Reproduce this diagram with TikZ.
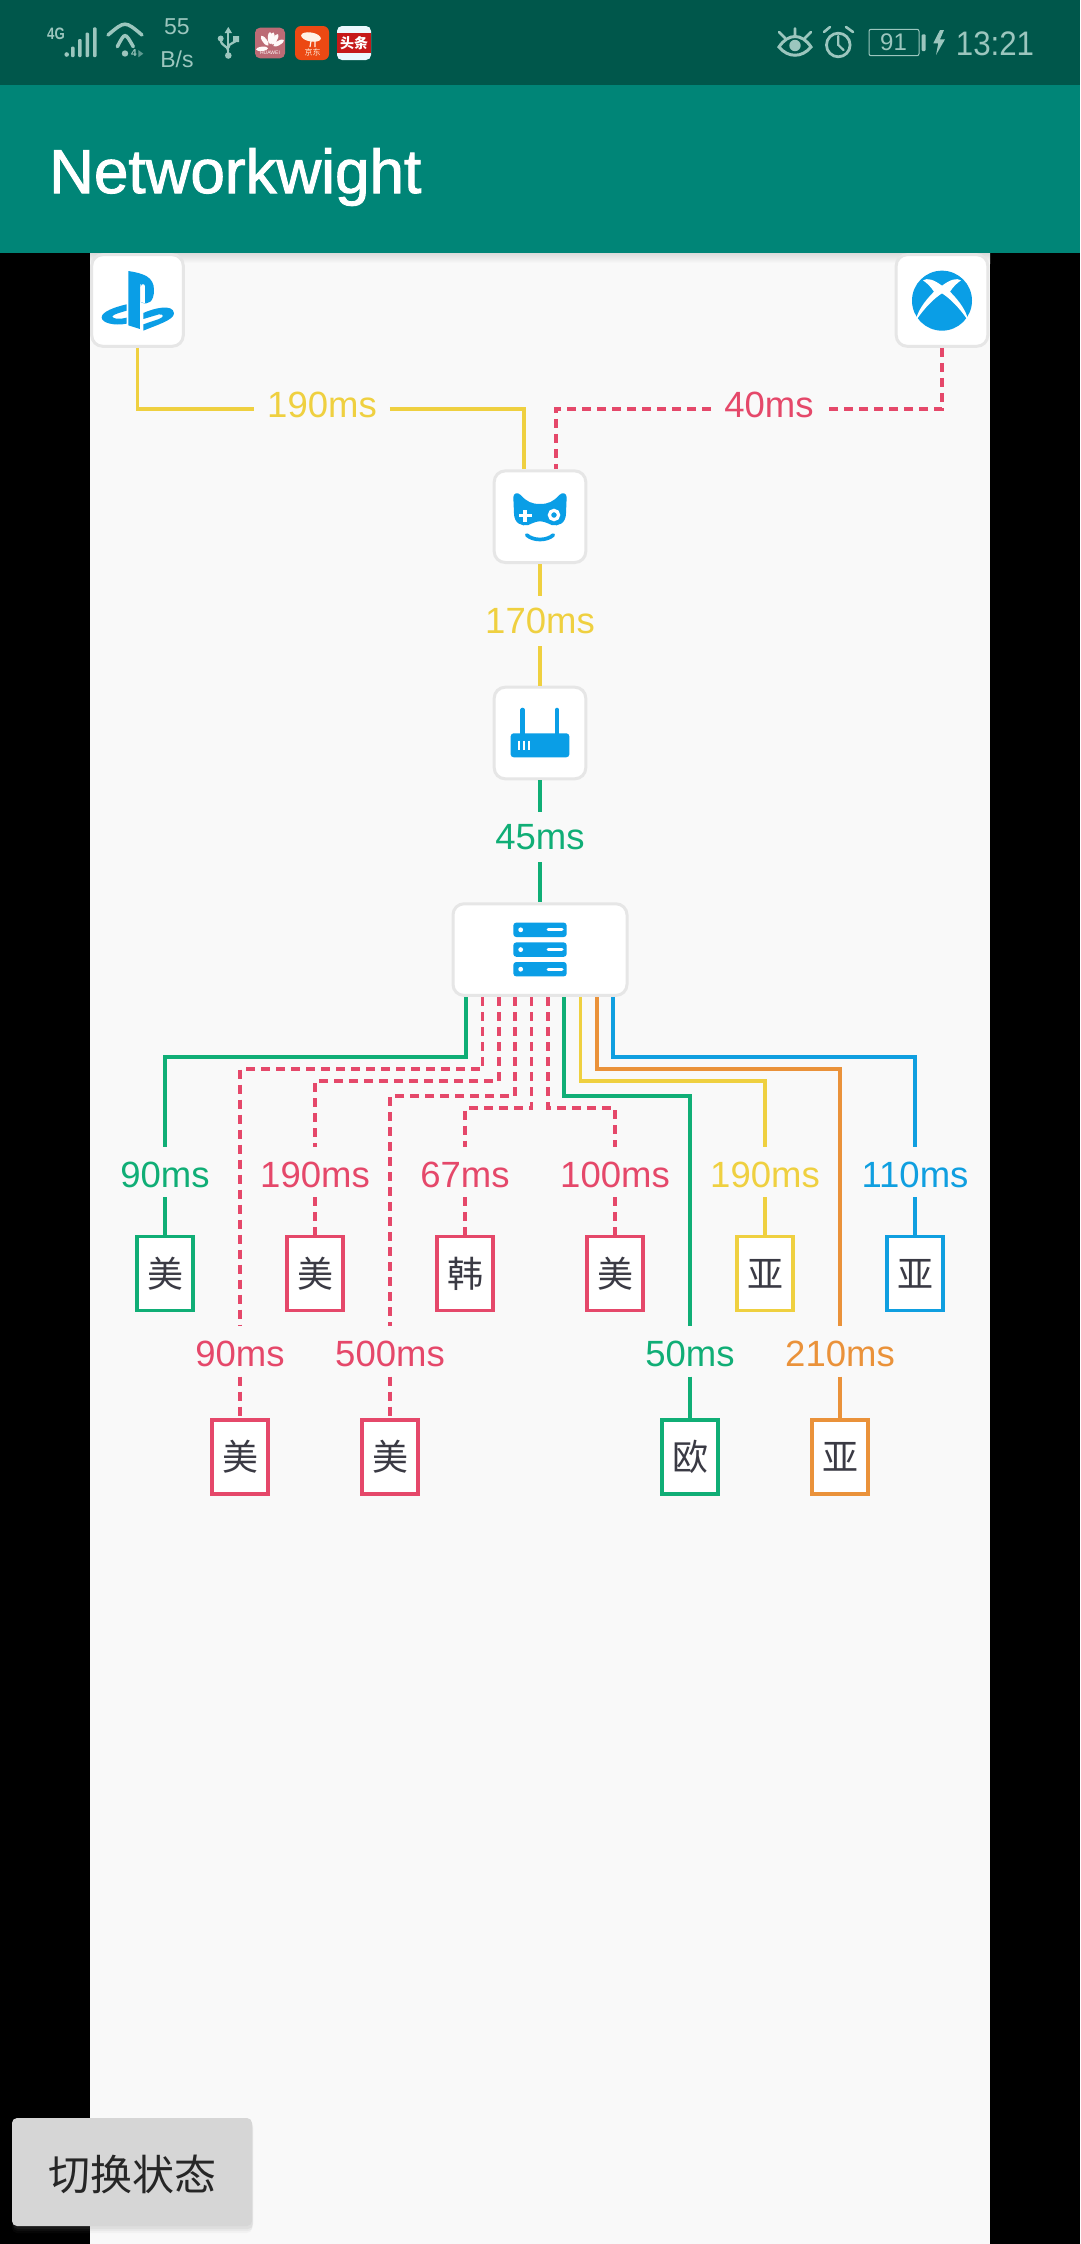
\documentclass[tikz,border=0pt]{standalone}
\usepackage{fontspec}
\setmainfont{Liberation Sans}
\newfontfamily\cjk{Noto Sans CJK SC}
\newfontfamily\titlefont[FakeBold=1.5]{Liberation Sans}
\usetikzlibrary{shadows}

\definecolor{statusbar}{HTML}{00574B}
\definecolor{appbar}{HTML}{008577}
\definecolor{statustext}{HTML}{9CC6BE}
\definecolor{pagebg}{HTML}{F9F9F9}
\definecolor{cardline}{HTML}{E6E6E6}
\definecolor{iconblue}{HTML}{0A9EE6}
\definecolor{msyellow}{HTML}{EFD040}
\definecolor{msred}{HTML}{E5486A}
\definecolor{msgreen}{HTML}{10AE76}
\definecolor{msorange}{HTML}{EA923A}
\definecolor{msblue}{HTML}{109FE0}
\definecolor{glyphgray}{HTML}{3A3A44}

\tikzset{
    card/.style={draw=cardline,fill=white,line width=3pt,rounded corners=11pt,minimum width=91.6pt,minimum height=91.6pt,inner sep=0pt},
    regbox/.style={draw=#1,fill=white,line width=3.3pt,minimum width=56pt,minimum height=74pt,inner sep=0pt,text=glyphgray,font=\cjk\fontsize{36}{36}\selectfont},
    mslabel/.style={text=#1,inner xsep=13pt,inner ysep=0pt,minimum height=50pt,font=\fontsize{36.5}{37}\selectfont},
    mslower/.style={text height=31pt},
    msraised/.style={text depth=8pt},
    conn/.style={draw=#1,line width=3.3pt},
    dashconn/.style={conn=#1,dash pattern=on 9pt off 6pt},
    statuslabel/.style={text=statustext,inner sep=0pt}
}

\begin{document}
\begin{tikzpicture}[x=1pt,y=-1pt]
    \useasboundingbox (0,0) rectangle (1080,2244);
    \fill[black] (0,0) rectangle (1080,2244);
    \fill[pagebg] (90,253) rectangle (990,2244);
    \shade[top color=black!14,bottom color=pagebg] (90,253) rectangle (990,263);

    % cards
    \node[card] (ps) at (137.5,300.5) {};
    \node[card] (xbox) at (942,300.5) {};
    \node[card] (game) at (540,516.7) {};
    \node[card] (router) at (540,733) {};
    \node[card,minimum width=174pt] (server) at (540,949.6) {};

    % top bars
    \fill[statusbar] (0,0) rectangle (1080,85);
    \fill[appbar] (0,85) rectangle (1080,253);
    \node[anchor=west,inner sep=0pt,text=white,font=\titlefont\fontsize{62}{62}\selectfont] (title) at (49,177) {Networkwight};

    % links above the server
    \node[mslabel=msyellow,msraised] (ms190) at (322,409) {190ms};
    \node[mslabel=msred,msraised] (ms40) at (769,409) {40ms};
    \node[mslabel=msyellow] (ms170) at (540,621) {170ms};
    \node[mslabel=msgreen] (ms45) at (540,837) {45ms};
    \coordinate (gamein1) at (524,469);
    \coordinate (gamein2) at (556,469);
    \draw[conn=msyellow] (ps.south) -- (137.5,409) -- (ms190.west);
    \draw[conn=msyellow] (ms190.east) -- (524,409) -- (gamein1);
    \draw[dashconn=msred] (xbox.south) -- (942,409) -- (ms40.east);
    \draw[dashconn=msred] (ms40.west) -- (556,409) -- (gamein2);
    \draw[conn=msyellow] (game.south) -- (ms170.north);
    \draw[conn=msyellow] (ms170.south) -- (router.north);
    \draw[conn=msgreen] (router.south) -- (ms45.north);
    \draw[conn=msgreen] (ms45.south) -- (server.north);

    % regions, first row
    \node[regbox=msgreen] (us1) at (165,1273.5) {美};
    \node[regbox=msred] (us3) at (315,1273.5) {美};
    \node[regbox=msred] (kr) at (465,1273.5) {韩};
    \node[regbox=msred] (us5) at (615,1273.5) {美};
    \node[regbox=msyellow] (as1) at (765,1273.5) {亚};
    \node[regbox=msblue] (as3) at (915,1273.5) {亚};
    \node[mslabel=msgreen,mslower] (ms90a) at (165,1172) {90ms};
    \node[mslabel=msred,mslower] (ms190b) at (315,1172) {190ms};
    \node[mslabel=msred,mslower] (ms67) at (465,1172) {67ms};
    \node[mslabel=msred,mslower] (ms100) at (615,1172) {100ms};
    \node[mslabel=msyellow,mslower] (ms190c) at (765,1172) {190ms};
    \node[mslabel=msblue,mslower] (ms110) at (915,1172) {110ms};

    % regions, second row
    \node[regbox=msred] (us2) at (240,1457) {美};
    \node[regbox=msred] (us4) at (390,1457) {美};
    \node[regbox=msgreen] (eu) at (690,1457) {欧};
    \node[regbox=msorange] (as2) at (840,1457) {亚};
    \node[mslabel=msred,mslower] (ms90b) at (240,1351.5) {90ms};
    \node[mslabel=msred,mslower] (ms500) at (390,1351.5) {500ms};
    \node[mslabel=msgreen,mslower] (ms50) at (690,1351.5) {50ms};
    \node[mslabel=msorange,mslower] (ms210) at (840,1351.5) {210ms};

    % links under the server
    \coordinate (out1) at (466,997);
    \coordinate (out2) at (482.5,997);
    \coordinate (out3) at (499,997);
    \coordinate (out4) at (515,997);
    \coordinate (out5) at (531.5,997);
    \coordinate (out6) at (548,997);
    \coordinate (out7) at (564,997);
    \coordinate (out8) at (580.5,997);
    \coordinate (out9) at (597,997);
    \coordinate (out10) at (613,997);
    \draw[conn=msgreen] (out1) -- (466,1057) -- (165,1057) -- (ms90a.north);
    \draw[conn=msgreen] (ms90a.south) -- (us1.north);
    \draw[dashconn=msred] (out2) -- (482.5,1069) -- (240,1069) -- (ms90b.north);
    \draw[dashconn=msred] (ms90b.south) -- (us2.north);
    \draw[dashconn=msred] (out3) -- (499,1081) -- (315,1081) -- (ms190b.north);
    \draw[dashconn=msred] (ms190b.south) -- (us3.north);
    \draw[dashconn=msred] (out4) -- (515,1096) -- (390,1096) -- (ms500.north);
    \draw[dashconn=msred] (ms500.south) -- (us4.north);
    \draw[dashconn=msred] (out5) -- (531.5,1108) -- (465,1108) -- (ms67.north);
    \draw[dashconn=msred] (ms67.south) -- (kr.north);
    \draw[dashconn=msred] (out6) -- (548,1108) -- (615,1108) -- (ms100.north);
    \draw[dashconn=msred] (ms100.south) -- (us5.north);
    \draw[conn=msgreen] (out7) -- (564,1096) -- (690,1096) -- (ms50.north);
    \draw[conn=msgreen] (ms50.south) -- (eu.north);
    \draw[conn=msyellow] (out8) -- (580.5,1081) -- (765,1081) -- (ms190c.north);
    \draw[conn=msyellow] (ms190c.south) -- (as1.north);
    \draw[conn=msorange] (out9) -- (597,1069) -- (840,1069) -- (ms210.north);
    \draw[conn=msorange] (ms210.south) -- (as2.north);
    \draw[conn=msblue] (out10) -- (613,1057) -- (915,1057) -- (ms110.north);
    \draw[conn=msblue] (ms110.south) -- (as3.north);

    % playstation icon
    \begin{scope}[shift={(85,245)},x=0.3333pt,y=-0.3333pt]
        \fill[iconblue] (130,78) .. controls (175,85) and (207,95) .. (207,135) .. controls (207,170) and (190,182) .. (168,172) -- (168,125) .. controls (168,113) and (165,113) .. (165,125) -- (165,252) -- (130,241) -- cycle;
        \fill[white] (168,172) -- (168,125) .. controls (168,115) and (180,115) .. (180,125) -- (180,174) -- cycle;
        \fill[iconblue] (125,178) -- (125,197) .. controls (105,203) and (85,208) .. (82,214) .. controls (82,222) and (105,224) .. (125,218) -- (125,236) .. controls (90,243) and (50,235) .. (50,217) .. controls (50,200) and (90,186) .. (125,178) -- cycle;
        \fill[iconblue] (175,204) .. controls (205,190) and (265,175) .. (267,205) .. controls (267,225) and (215,240) .. (175,257) -- (175,238) -- (222,222) .. controls (238,215) and (238,208) .. (222,208) -- (175,222) -- cycle;
    \end{scope}

    % xbox icon
    \begin{scope}[shift={(885,245)},x=0.3333pt,y=-0.3333pt]
        \fill[iconblue] (171,167) circle (30pt);
        \fill[white] (114,106) .. controls (127,98) and (145,103) .. (171,122) .. controls (197,103) and (215,98) .. (228,106) .. controls (215,115) and (205,125) .. (195,140) .. controls (225,170) and (245,200) .. (250,228) .. controls (225,190) and (195,160) .. (171,145) .. controls (147,160) and (117,190) .. (92,228) .. controls (97,200) and (117,170) .. (147,140) .. controls (137,125) and (127,115) .. cycle;
    \end{scope}

    % gamepad and router icons
    \begin{scope}[shift={(480,460)},x=0.3333pt,y=-0.3333pt]
        \fill[iconblue] (100,112) .. controls (100,100) and (112,95) .. (122,105) .. controls (140,125) and (155,132) .. (180,132) .. controls (205,132) and (220,125) .. (238,105) .. controls (248,95) and (260,100) .. (260,112) -- (258,160) .. controls (258,190) and (235,200) .. (215,195) .. controls (200,188) and (190,184) .. (180,184) .. controls (170,184) and (160,188) .. (145,195) .. controls (125,200) and (102,190) .. (102,160) -- cycle;
        \draw[white,line width=3.6pt] (117,167) -- (155,167) (135,150) -- (135,185);
        \draw[white,line width=3.2pt] (222,165) circle (4.6pt);
        \draw[iconblue,line width=3.7pt,line cap=round] (140,225) .. controls (160,243) and (200,243) .. (220,225);
        \draw[iconblue,line width=4.6pt,line cap=round] (128,750) -- (128,825) (231,750) -- (231,825);
        \fill[iconblue,rounded corners=3pt] (92,820) rectangle (268,892);
        \draw[white,line width=2pt] (118,842) -- (118,870) (132,842) -- (132,870) (146,842) -- (146,870);
    \end{scope}

    % server icon
    \fill[iconblue,rounded corners=3pt] (513.3,922.6) rectangle (566.7,937);
    \fill[iconblue,rounded corners=3pt] (513.3,942.4) rectangle (566.7,956.8);
    \fill[iconblue,rounded corners=3pt] (513.3,962) rectangle (566.7,976.4);
    \fill[white] (520.7,929.8) circle (2.4pt) (520.7,949.6) circle (2.4pt) (520.7,969.2) circle (2.4pt);
    \draw[white,line width=3pt,line cap=round] (548,929.8) -- (562,929.8) (548,949.6) -- (562,949.6) (548,969.2) -- (562,969.2);

    % button
    \node[fill=black!16,text=black!85,rounded corners=5pt,minimum width=240pt,minimum height=108pt,inner sep=0pt,text height=37pt,text depth=0pt,
        drop shadow={shadow xshift=0pt,shadow yshift=-7pt,opacity=0.05},drop shadow={shadow xshift=1pt,shadow yshift=-5pt,opacity=0.07},drop shadow={shadow xshift=1pt,shadow yshift=-3pt,opacity=0.1},
        font=\cjk\fontsize{42}{42}\selectfont] (switch) at (132,2172) {切换状态};

    % status bar, left
    \node[statuslabel,font=\bfseries\fontsize{16.5}{17}\selectfont,xscale=0.8] (net) at (56,34) {4G};
    \fill[statustext] (66.7,54.5) circle (2.3pt);
    \fill[statustext,rounded corners=1pt] (71,46.5) rectangle (74.5,57);
    \fill[statustext,rounded corners=1pt] (78.2,39) rectangle (81.7,57);
    \fill[statustext,rounded corners=1pt] (85.5,32.7) rectangle (89,57);
    \fill[statustext,rounded corners=1pt] (93,27.3) rectangle (96.5,57);
    \draw[statustext,line width=3.5pt,line cap=round] (108,35) .. controls (125,20.6) .. (142,35);
    \draw[statustext,line width=3.5pt,line cap=round] (117.3,46.7) .. controls (125,32) .. (133.3,46.7);
    \fill[statustext] (125,53.5) circle (3.2pt);
    \node[statuslabel,font=\bfseries\fontsize{10}{10}\selectfont] (wifi4) at (134,53.5) {4};
    \fill[statustext,opacity=0.6] (138.3,50) -- (143.3,53.7) -- (138.3,57.3) -- cycle;
    \node[statuslabel,font=\fontsize{23}{23}\selectfont] (speed) at (177,27) {55};
    \node[statuslabel,font=\fontsize{23}{23}\selectfont] (speedunit) at (177,59) {B/s};
    \draw[statustext,line width=2.2pt] (228.3,31) -- (228.3,54);
    \fill[statustext] (228.3,27) -- (232,33) -- (224.6,33) -- cycle (228.3,55.5) circle (3.3pt);
    \draw[statustext,line width=2.2pt] (220.7,39) .. controls (220.7,47) and (228,45) .. (228.3,51) (236,39) .. controls (236,44) and (228.5,42) .. (228.3,48);
    \fill[statustext] (220.7,38.5) circle (3pt) (233,36) rectangle (239,42);
    \fill[rounded corners=5pt,fill=magenta!45!red!45!gray] (255,27.7) rectangle (285,58.3);
    \fill[white!90!pink] [rotate around={-60:(270,48)}] (270,38) ellipse (2.2pt and 6pt) [rotate around={30:(270,48)}] (270,38) ellipse (2.2pt and 6pt);
    \fill[white!90!pink] [rotate around={-12:(270,48)}] (270,38) ellipse (2.2pt and 6pt) [rotate around={12:(270,48)}] (270,38) ellipse (2.2pt and 6pt);
    \fill[white!90!pink] [rotate around={36:(270,48)}] (270,39) ellipse (2.2pt and 6pt) [rotate around={60:(270,48)}] (270,40) ellipse (2.2pt and 6pt);
    \node[inner sep=0pt,text=white!85!pink,font=\fontsize{5}{5}\selectfont] (huawei) at (270,52.5) {HUAWEI};
    \fill[orange!50!red!85!gray,rounded corners=6pt] (295,26) rectangle (329,60);
    \fill[white!90!orange] [rotate around={-10:(311,37)}] (311,37) ellipse (10pt and 4.5pt);
    \draw[white!90!orange,line width=1.2pt] (311,41) -- (310,47) (315,41) -- (315,47);
    \node[inner sep=0pt,text=white!85!orange,font=\cjk\fontsize{8}{8}\selectfont] (jd) at (312.5,52.5) {京东};
    \fill[black!5!cyan!8!white,rounded corners=5pt] (337,26) rectangle (371,60);
    \fill[red!75!black!90] (337,33) rectangle (371,53);
    \node[inner sep=0pt,text=white,font=\cjk\bfseries\fontsize{14}{14}\selectfont] (toutiao) at (354,43) {头条};

    % status bar, right
    \draw[statustext,line width=3pt,fill=none] (779,47) .. controls (788,33) and (802,33) .. (811,47) .. controls (802,58) and (788,58) .. cycle;
    \fill[statustext] (795,45.5) circle (5.7pt);
    \draw[statustext,line width=2.6pt,line cap=round] (795,28.5) -- (795,36) (779,32) -- (785,38) (811,32) -- (805,38);
    \draw[statustext,line width=2.8pt] (838.3,45) circle (11.8pt);
    \draw[statustext,line width=2.2pt,line cap=round] (838.3,36) -- (838.3,45) -- (843.5,50);
    \draw[statustext,line width=2.6pt,line cap=round] (824,32) -- (830,27) (846,27) -- (853,32);
    \draw[statustext,line width=1pt,rounded corners=2pt] (869,29.3) rectangle (919,55.7);
    \node[statuslabel,font=\fontsize{24}{24}\selectfont] (battery) at (893.5,42.5) {91};
    \fill[statustext,rounded corners=1pt] (921.7,34.3) rectangle (925.7,51);
    \fill[statustext] (940,30) -- (933.3,43.3) -- (938.3,43.3) -- (936,55) -- (945,39.3) -- (940,39.3) -- (944,30) -- cycle;
    \node[statuslabel,xscale=0.92,font=\fontsize{34}{34}\selectfont] (clock) at (995,44) {13:21};
\end{tikzpicture}
\end{document}
